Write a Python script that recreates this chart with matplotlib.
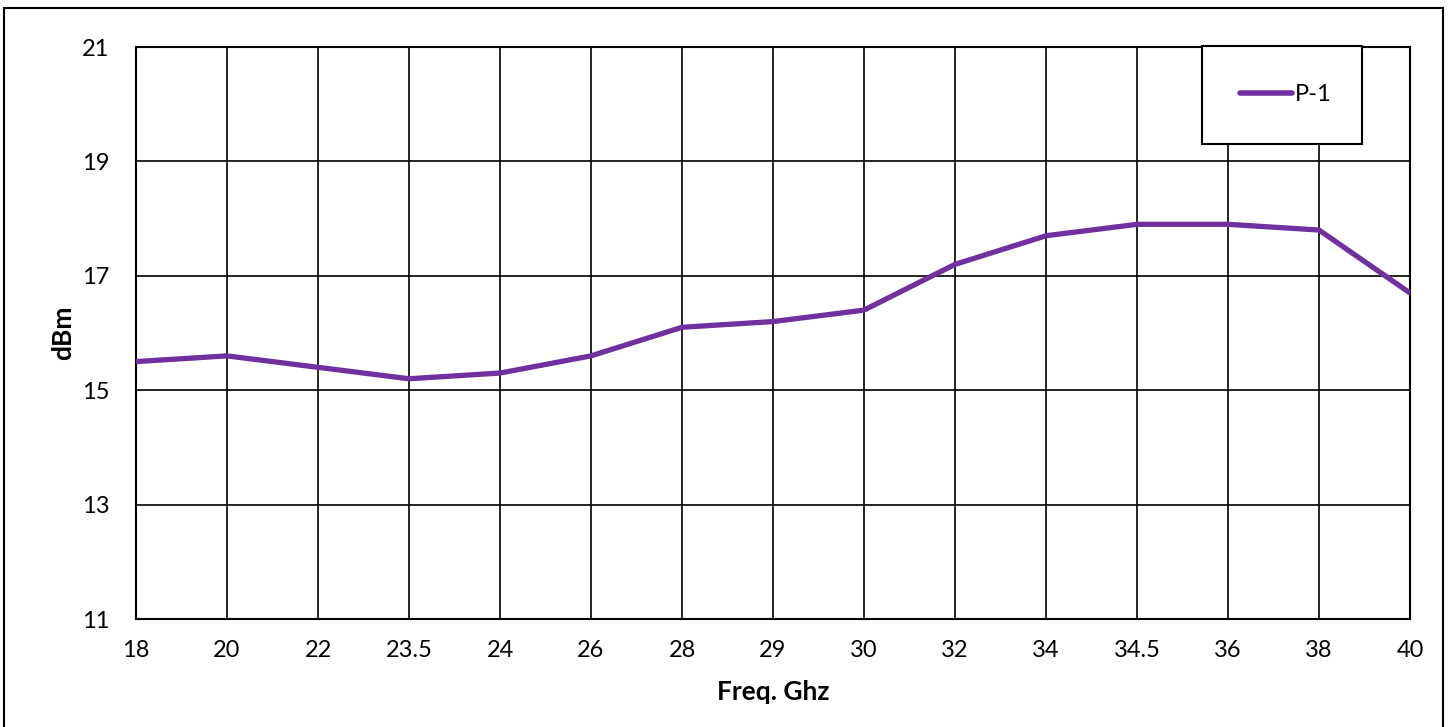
import matplotlib
matplotlib.use("Agg")
from matplotlib import pyplot as plt
from matplotlib.patches import Rectangle

freq_labels = ['18', '20', '22', '23.5', '24', '26', '28', '29', '30',
               '32', '34', '34.5', '36', '38', '40']
p1_dbm = [15.5, 15.6, 15.4, 15.2, 15.3, 15.6, 16.1, 16.2, 16.4,
          17.2, 17.7, 17.9, 17.9, 17.8, 16.7]
y_ticks = [11, 13, 15, 17, 19, 21]

plt.rcParams['font.family'] = ['Lato', 'DejaVu Sans']

W, H = 1452, 727
fig = plt.figure(figsize=(W / 100, H / 100), dpi=100)
ax = fig.add_axes([136 / W, 1 - 619 / H, (1410 - 136) / W, (619 - 47) / H])

x = list(range(len(freq_labels)))
ax.plot(x, p1_dbm, color='#7030A0', linewidth=3.8, label='P-1',
        solid_capstyle='round', solid_joinstyle='round', zorder=3)

ax.set_xlim(0, len(freq_labels) - 1)
ax.set_ylim(11, 21)
ax.set_xticks(x)
ax.set_xticklabels(freq_labels)
ax.set_yticks(y_ticks)
ax.tick_params(axis='both', length=0, labelsize=17)
ax.tick_params(axis='y', pad=19)
ax.tick_params(axis='x', pad=15)
ax.grid(True, color='black', linewidth=1.2)
ax.set_axisbelow(True)
for s in ax.spines.values():
    s.set_linewidth(1.5)
    s.set_color('black')

ax.set_xlabel('Freq. Ghz', fontsize=19, fontweight='bold', labelpad=14)
ax.set_ylabel('dBm', fontsize=19, fontweight='bold', labelpad=5)

leg = ax.legend(loc='upper left', bbox_to_anchor=(1202 / W, 1 - 143 / H, 160 / W, 97 / H),
                bbox_transform=fig.transFigure, mode='expand', fancybox=False,
                framealpha=1, edgecolor='black', fontsize=17, handlelength=2.2,
                handletextpad=0.1, borderpad=1.63, borderaxespad=0)
leg.get_frame().set_linewidth(1.5)
for h in leg.get_lines():
    h.set_linewidth(4)

# outer chart border
fig.patches.append(Rectangle((4 / W, -0.01), (1443 - 4) / W, 1.01 - 8 / H,
                             transform=fig.transFigure, fill=False,
                             edgecolor='black', linewidth=1.5))

fig.savefig('out.png', dpi=100)
